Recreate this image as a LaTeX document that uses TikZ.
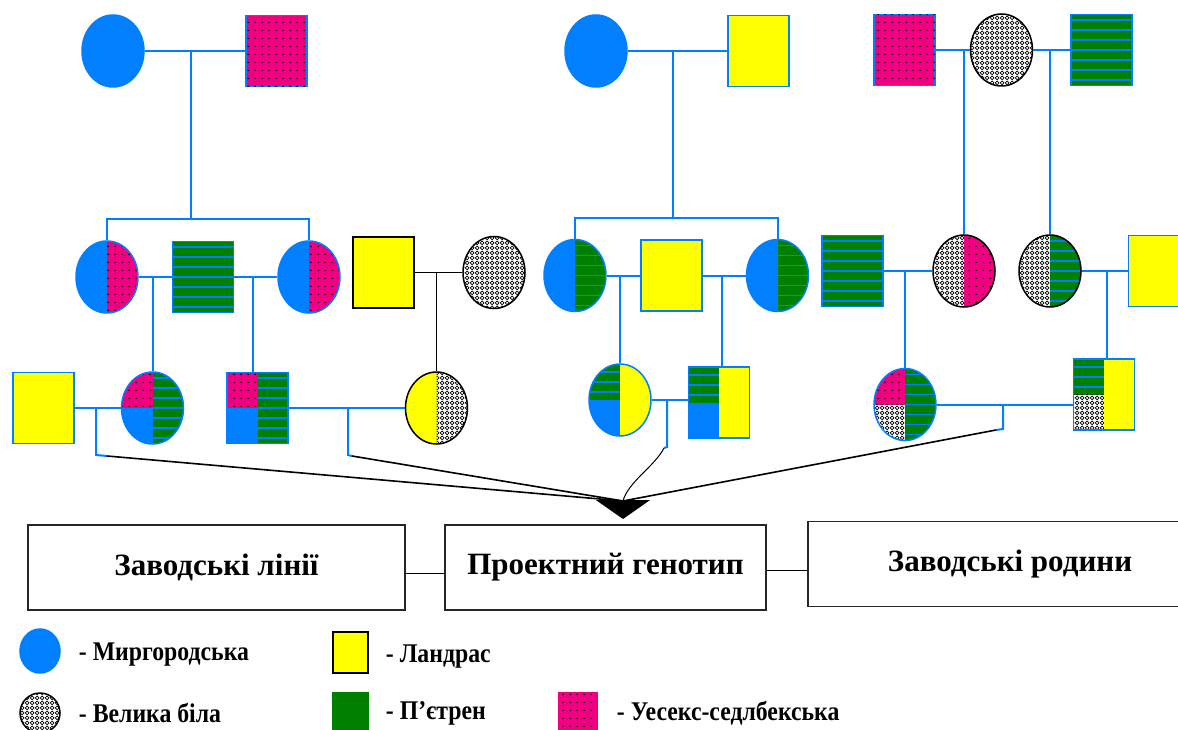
\documentclass[tikz,border=0pt]{standalone}
\usepackage{fontspec}
\setmainfont{Liberation Serif}
\newfontfamily\narrowserif{Liberation Serif}[FakeStretch=0.88]
\usetikzlibrary{shapes.geometric,patterns,arrows.meta,positioning}
\definecolor{mblue}{RGB}{0,128,255}
\definecolor{lyellow}{RGB}{255,255,0}
\definecolor{pgreen}{RGB}{0,128,0}
\definecolor{upink}{RGB}{240,0,128}
\pgfdeclarepatternformonly{pinkdots}{\pgfqpoint{0pt}{0pt}}{\pgfqpoint{7pt}{8pt}}{\pgfqpoint{7pt}{8pt}}{\pgfpathcircle{\pgfqpoint{3.5pt}{4pt}}{0.9pt}\pgfusepath{fill}}
\pgfdeclarepatternformonly{rings}{\pgfqpoint{0pt}{0pt}}{\pgfqpoint{5pt}{5pt}}{\pgfqpoint{5pt}{5pt}}{\pgfsetlinewidth{0.9pt}\pgfpathcircle{\pgfqpoint{2.5pt}{2.5pt}}{2.2pt}\pgfusepath{stroke}}
\begin{document}
\begin{tikzpicture}[x=1pt,y=-1pt,
    fem/.style={ellipse, draw=mblue, line width=1.5pt, minimum width=62pt, minimum height=72pt, inner sep=0pt},
    mal/.style={rectangle, draw=mblue, line width=1.5pt, minimum width=61pt, minimum height=71pt, inner sep=0pt},
    mirg/.style={fill=mblue},
    land/.style={fill=lyellow},
    piet/.style={fill=pgreen, path picture={
      \foreach \k in {-30,-20,...,30}
        \draw[mblue, line width=1.6pt] ([yshift=\k pt]path picture bounding box.west) -- ([yshift=\k pt]path picture bounding box.east);}},
    velb/.style={fill=white, postaction={pattern=rings}},
    uess/.style={fill=upink, postaction={pattern=pinkdots}},
    halves/.style 2 args={path picture={
      \coordinate (hsw) at (path picture bounding box.south west);
      \coordinate (hs) at (path picture bounding box.south);
      \coordinate (hn) at (path picture bounding box.north);
      \coordinate (hne) at (path picture bounding box.north east);
      \fill[#1] (hsw) rectangle (hn);
      \fill[#2] (hs) rectangle (hne);}},
    quarters/.style n args={3}{path picture={
      \coordinate (hsw) at (path picture bounding box.south west);
      \coordinate (hw) at (path picture bounding box.west);
      \coordinate (hc) at (path picture bounding box.center);
      \coordinate (hs) at (path picture bounding box.south);
      \coordinate (hn) at (path picture bounding box.north);
      \coordinate (hne) at (path picture bounding box.north east);
      \fill[#1] (hw) rectangle (hn);
      \fill[#2] (hsw) rectangle (hc);
      \fill[#3] (hs) rectangle (hne);}},
    link/.style={mblue, line width=2pt},
    arr/.style={black, line width=1.6pt},
    plate/.style={draw=black!85, line width=1.5pt, minimum height=85pt, font=\bfseries\fontsize{31}{34}\selectfont},
    legtext/.style={font=\narrowserif\bfseries\fontsize{27}{30}\selectfont, inner sep=0pt}]
  \useasboundingbox (0,0) rectangle (1178,730);

  \node[fem, mirg] (m1) at (113,51) {};
  \node[mal, uess] (f1) at (276.5,51) {};
  \node[fem, mirg] (m2) at (596,51) {};
  \node[mal, land] (f2) at (758.5,51) {};
  \node[mal, uess] (f3) at (904.5,50) {};
  \node[fem, velb, draw=black] (m3) at (1001.5,50) {};
  \node[mal, piet] (f4) at (1101.5,50) {};

  \node[fem, halves={mirg}{uess}] (c1) at (107,277) {};
  \node[mal, piet] (g1) at (203,277) {};
  \node[fem, halves={mirg}{uess}] (c2) at (309,277) {};
  \node[mal, land, draw=black] (y1) at (383.5,272.5) {};
  \node[fem, velb, draw=black] (v1) at (494,272.5) {};
  \node[fem, halves={mirg}{piet}] (d1) at (575,275.5) {};
  \node[mal, land] (y2) at (671.5,275.5) {};
  \node[fem, halves={mirg}{piet}] (d2) at (777.5,275.5) {};
  \node[mal, piet] (g2) at (852.5,271) {};
  \node[fem, halves={velb}{uess}, draw=black] (e1) at (964,271) {};
  \node[fem, halves={velb}{piet}, draw=black] (e2) at (1050,271) {};
  \node[mal, land] (y3) at (1159,271) {};

  \node[mal, land] (y4) at (43.5,408) {};
  \node[fem, quarters={uess}{mirg}{piet}] (q1) at (152.5,408) {};
  \node[mal, quarters={uess}{mirg}{piet}] (q2) at (257.5,408) {};
  \node[fem, halves={land}{velb}, draw=black] (q3) at (436.5,408) {};
  \node[fem, quarters={piet}{mirg}{land}] (q4) at (620,400) {};
  \node[mal, quarters={piet}{mirg}{land}] (q5) at (719,402.5) {};
  \node[fem, quarters={uess}{velb}{piet}] (q6) at (905,404.5) {};
  \node[mal, quarters={piet}{velb}{land}] (q7) at (1104,394.5) {};

  \coordinate (j1) at (191,51);
  \coordinate (s1) at (191,219);
  \coordinate (j2) at (673,51);
  \coordinate (s2) at (673,218);
  \draw[link] (m1) -- (f1);
  \draw[link] (j1) -- (s1);
  \draw[link] (c1) |- (s1) -| (c2);
  \draw[link] (m2) -- (f2);
  \draw[link] (j2) -- (s2);
  \draw[link] (d1) |- (s2) -| (d2);
  \draw[link] (f3) -- (m3);
  \draw[link] (m3) -- (f4);
  \draw[link] (e1) -- (e1 |- f3);
  \draw[link] (e2) -- (e2 |- f4);

  \coordinate (k2) at (253,277);
  \coordinate (k5) at (722,275.5);
  \coordinate (k7) at (1107,271);
  \draw[link] (c1) -- (g1) -- (c2);
  \draw[link] (q1) -- (q1 |- c1);
  \draw[link] (k2) -- (k2 |- q2.north);
  \draw[arr] (y1) -- (v1);
  \draw[arr] (q3) -- (q3 |- y1);
  \draw[link] (d1) -- (y2) -- (d2);
  \draw[link] (q4) -- (q4 |- d1);
  \draw[link] (k5) -- (k5 |- q5.north);
  \draw[link] (g2) -- (e1);
  \draw[link] (e2) -- (y3);
  \draw[link] (q6) -- (q6 |- g2);
  \draw[link] (k7) -- (k7 |- q7.north);

  \coordinate (a1) at (96,455);
  \coordinate (b1) at (107,456);
  \coordinate (a2) at (348,455);
  \coordinate (b2) at (352,456);
  \coordinate (a3) at (667,447);
  \coordinate (b3) at (664,448);
  \coordinate (a4) at (1003,429);
  \coordinate (b4) at (996,430);
  \coordinate (hub) at (623,501);
  \coordinate (tip) at (623,519);
  \draw[link] (y4) -- (q1);
  \draw[link] (a1 |- y4) -- (a1) -- (b1);
  \draw[link] (q2) -- (q3);
  \draw[link] (a2 |- q2) -- (a2) -- (b2);
  \draw[link] (q4.east) -- (q4.east -| q5.west);
  \draw[link] (a3 |- q4) -- (a3) -- (b3);
  \draw[link] (q6.east) -- (q6.east -| q7.west);
  \draw[link] (a4 |- q6) -- (a4) -- (b4);
  \draw[arr] (b1) -- (hub);
  \draw[arr] (b2) -- (hub);
  \draw[arr] (b4) -- (hub);
  \draw[arr, line width=1pt] (b3) .. controls (655,466) and (628,482) .. (hub);
  \draw[arr, -{Triangle[width=54pt,length=19pt]}] (hub) -- (tip);

  \node[plate, minimum width=377pt] (zl) at (216.5,567.5) {Заводські лінії};
  \node[plate, minimum width=321pt] (pg) at (605.5,567.5) {Проектний генотип};
  \node[plate, minimum width=404pt] (zr) at (1010,564) {Заводські родини};
  \draw[arr] ([yshift=-6pt]zl.east) -- ([yshift=-6pt]pg.west);
  \draw[arr] ([yshift=-3pt]pg.east) -- ([yshift=-3pt]pg.east -| zr.west);

  \node[fem, mirg, minimum width=40pt, minimum height=44pt] (l1) at (40,651) {};
  \node[fem, velb, draw=black, minimum width=40pt, minimum height=40pt] (l2) at (40,713) {};
  \node[mal, land, draw=black, minimum width=35pt, minimum height=41pt] (l3) at (350.5,652.5) {};
  \node[mal, fill=pgreen, draw=pgreen, minimum width=35pt, minimum height=41pt] (l4) at (350.5,713) {};
  \node[mal, uess, draw=upink, minimum width=38pt, minimum height=41pt] (l5) at (578,713) {};
  \node[legtext, right=18pt of l1, yshift=-4pt] (t1) {- Миргородська};
  \node[legtext, right=18pt of l2] (t2) {- Велика біла};
  \node[legtext, right=17pt of l3, yshift=-4pt] (t3) {- Ландрас};
  \node[legtext, right=17pt of l4] (t4) {- П’єтрен};
  \node[legtext, right=19pt of l5] (t5) {- Уесекс-седлбекська};
\end{tikzpicture}
\end{document}
